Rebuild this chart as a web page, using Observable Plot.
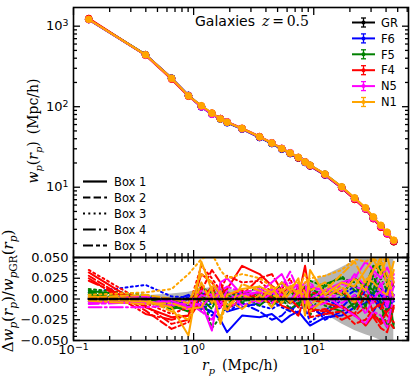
<!DOCTYPE html>
<html><head><meta charset="utf-8">
<script src="https://cdn.jsdelivr.net/npm/d3@7"></script>
<script src="https://cdn.jsdelivr.net/npm/@observablehq/plot@0.6"></script>
<style>
html,body{margin:0;padding:0;background:#fff;}
#chart{position:relative;width:416px;height:384px;overflow:hidden;font-family:"DejaVu Sans",sans-serif;}
#chart svg{position:absolute;left:0;overflow:visible;}
</style></head><body><div id="chart"></div>
<script>
// ---------------- data ----------------
const rp = [0.134,0.398,0.655,0.906,1.16,1.42,1.67,1.90,2.53,3.54,4.48,5.42,6.36,7.45,8.47,9.32,12.4,17.1,21.9,27.0,31.3,36.2,40.8,46.4];
const wpGR = [1211,441,226,138,100,81.6,70.8,64.2,53.1,41.8,35.2,30.0,26.4,23.2,20.4,18.6,14.4,9.9,7.18,5.40,4.12,3.25,2.68,2.13];

const models = ["GR","F6","F5","F4","N5","N1"];
const colors = ["#000000","#0000ff","#008000","#ff0000","#ff00ff","#ffa500"];
const boxes = ["Box 1","Box 2","Box 3","Box 4","Box 5"];

// residuals Δwp/wpGR in units of 1e-3, one row per box
const resF6 = [
 [2,0,-3,-5,-10,-15,-25,-40,-20,-22,-18,-28,-20,-15,-25,-32,-22,-20,-10,-5,0,-12,5,-3],
 [0,-5,-3,5,-8,0,5,-10,-5,-15,-25,-20,-10,-18,-5,-12,-20,0,10,5,-15,0,-5,5],
 [8,17,3,2,-5,-20,-10,-15,-5,-8,-12,-5,0,5,-10,-28,-15,5,15,10,20,5,-10,8],
 [-3,-5,-5,-8,-12,-5,0,-15,-10,-5,-2,-10,-15,-5,0,10,0,-10,5,-5,8,12,-15,0],
 [1,2,0,-2,5,10,-5,0,8,2,5,10,-5,0,8,-5,-25,-15,-5,10,5,-8,15,3]
];
const resF5 = [
 [10,2,-8,-15,5,-5,0,-10,8,0,12,2,-5,15,-8,5,10,5,25,15,40,35,20,-35],
 [8,0,-10,-5,15,5,-8,0,-5,10,-3,8,15,-10,10,-20,18,25,20,-10,30,-5,-35,-10],
 [12,5,-2,-10,8,-35,-22,-5,5,15,0,20,10,5,2,22,15,28,10,15,5,25,10,0],
 [5,-2,-6,0,-15,10,5,8,3,-8,5,-5,10,0,15,5,-8,-15,-5,-12,-20,-25,-10,-30],
 [6,-3,-12,-8,0,-12,12,5,-3,5,-8,0,-12,-5,-3,12,5,10,-12,20,10,45,25,15]
];
const resF4 = [
 [32,-10,-22,-20,30,20,5,12,40,30,16,8,14,2,40,0,-5,-10,-18,-32,-20,-28,-15,-8],
 [28,-14,-36,-28,10,35,20,0,5,25,30,10,-5,15,10,-12,-15,-8,-20,-10,-22,-35,-40,-10],
 [35,-5,-18,-10,40,25,10,28,20,22,8,12,25,-2,15,8,5,10,-5,12,0,-12,5,20],
 [25,-18,-25,-20,15,0,-10,5,10,0,-5,5,0,-10,-5,-15,-12,-25,-18,5,-15,-30,-25,-35],
 [22,-8,-30,-25,0,15,-5,-12,0,8,2,-8,-12,-20,5,-22,-18,-15,-30,-25,-12,-5,-20,-28]
];
const resN5 = [
 [-3,-5,-2,-10,-5,-38,20,25,5,8,20,30,10,18,-5,15,10,20,25,45,35,25,38,20],
 [0,3,-5,-12,5,0,10,15,8,12,5,15,33,10,20,-10,-5,10,30,15,-5,20,-8,30],
 [-5,-2,-8,-5,10,5,-10,-12,0,10,-5,8,20,0,10,20,0,18,15,10,32,15,28,25],
 [-10,-10,-8,-5,-15,-25,-5,10,-8,0,12,5,-2,12,0,-5,5,-10,-20,-30,-15,-20,-35,5],
 [-6,-4,-7,0,-10,5,-8,0,5,-5,8,0,15,5,8,0,12,-5,5,-18,0,10,-10,15]
];
const resN1 = [
 [0,-3,-10,-44,45,10,-25,5,12,15,8,20,10,25,-20,35,5,20,15,35,48,30,52,20],
 [2,5,0,-5,30,20,5,-15,18,10,5,0,15,20,8,-8,10,30,45,20,35,50,15,45],
 [5,8,12,30,48,55,35,25,30,25,15,10,15,5,20,25,28,35,48,45,50,40,55,50],
 [-2,-6,-5,-12,-10,15,-30,0,-12,5,-10,12,-5,8,5,-15,0,15,-5,25,20,10,5,35],
 [3,0,-15,-25,20,-5,10,-8,5,-3,15,-5,8,10,30,10,20,5,25,10,35,45,30,0]
];
// GR scatter band (1e-3)
const bandLo = [-3,-4,-4,-4,-4,-4,-3,-3,-4,-5,-5,-6,-7,-8,-10,-12,-18,-30,-38,-43,-46,-50,-52,-55];
const bandHi = [3,4,6,8,12,14,14,12,9,8,9,10,11,13,16,20,28,38,46,52,55,58,60,60];

const xMajor = [0.1,1,10];
const xMinor = [0.2,0.3,0.4,0.5,0.6,0.7,0.8,0.9,2,3,4,5,6,7,8,9,20,30,40,50,60];
const yTopMajor = [10,100,1000];
const yTopMinor = [2,3,4,5,6,7,8,9,20,30,40,50,60,70,80,90,200,300,400,500,600,700,800,900];
const yBotMajor = [-0.05,-0.025,0,0.025,0.05];
const yBotMinor = [-0.045,-0.04,-0.035,-0.03,-0.02,-0.015,-0.01,-0.005,0.005,0.01,0.015,0.02,0.03,0.035,0.04,0.045];

// ---------------- styles ----------------
const dashes = [undefined, "7.4,3.2", "2,3.3", "12.8,3.2,2,3.2", "10,3,4,3"];
const resAll = [null, resF6, resF5, resF4, resN5, resN1];
const W = 416, xDom = [0.1, 61.5];
const ML = 73, MR = 8;
const SERIF = "'DejaVu Serif', serif";
const powFmt = d => "10^" + String(Math.round(Math.log10(d))).replace("-", "−");
const blank = () => "";

function tickMarks(major, minor) {
  const o = {label: null, tickFormat: blank, strokeWidth: 1.3};
  return [
    Plot.axisX({...o, anchor: "bottom", ticks: major, tickSize: -7}),
    Plot.axisX({...o, anchor: "top", ticks: major, tickSize: -7}),
    Plot.axisX({...o, anchor: "bottom", ticks: minor, tickSize: -4}),
    Plot.axisX({...o, anchor: "top", ticks: minor, tickSize: -4}),
  ];
}
function yTicks(major, minor) {
  const o = {label: null, tickFormat: blank, strokeWidth: 1.3};
  return [
    Plot.axisY({...o, anchor: "left", ticks: major, tickSize: -7}),
    Plot.axisY({...o, anchor: "right", ticks: major, tickSize: -7}),
    Plot.axisY({...o, anchor: "left", ticks: minor, tickSize: -4}),
    Plot.axisY({...o, anchor: "right", ticks: minor, tickSize: -4}),
  ];
}

// ---------------- top panel ----------------
const wpModel = models.map((m, k) => k === 0 ? wpGR :
  wpGR.map((w, i) => w * (1 + d3.mean(resAll[k], row => row[i]) / 1000)));

const topMarks = [];
models.forEach((m, k) => {
  const rows = rp.map((r, i) => ({r, w: wpModel[k][i]}));
  topMarks.push(Plot.line(rows, {x: "r", y: "w", stroke: colors[k], strokeWidth: 2.2}));
  topMarks.push(Plot.dot(rows, {x: "r", y: "w", r: 3.4, fill: colors[k], stroke: colors[k], strokeWidth: 1}));
});

const topPlot = Plot.plot({
  width: W, height: 258, marginTop: 7, marginBottom: 1, marginLeft: ML, marginRight: MR,
  x: {type: "log", domain: xDom},
  y: {type: "log", domain: [1.34, 1706]},
  style: {fontFamily: "DejaVu Sans", fontSize: "13px", color: "black", background: "transparent"},
  marks: [
    ...topMarks,
    ...tickMarks(xMajor, xMinor),
    ...yTicks(yTopMajor, yTopMinor),
    Plot.axisY({anchor: "left", ticks: yTopMajor, tickSize: 0, tickPadding: 5, tickFormat: powFmt, label: null, fontSize: 13}),
    Plot.frame({stroke: "black", strokeWidth: 1.6})
  ]
});

// ---------------- bottom panel ----------------
const botMarks = [];
const bandRows = rp.map((r, i) => ({r, lo: bandLo[i] / 1000, hi: bandHi[i] / 1000}));
botMarks.push(Plot.areaY(bandRows, {x: "r", y1: "lo", y2: "hi", fill: "#b5b5b5", clip: true}));
models.forEach((m, k) => {
  if (k === 0) return;
  resAll[k].forEach((row, b) => {
    const rows = rp.map((r, i) => ({r, v: row[i] / 1000}));
    botMarks.push(Plot.line(rows, {x: "r", y: "v", stroke: colors[k], strokeWidth: 2, strokeDasharray: dashes[b], clip: true}));
  });
});
const grRows = rp.map(r => ({r, v: 0}));
botMarks.push(Plot.line(grRows, {x: "r", y: "v", stroke: "black", strokeWidth: 2.6, strokeDasharray: "8,2.5"}));

const botPlot = Plot.plot({
  width: W, height: 134, marginTop: 7, marginBottom: 44, marginLeft: ML, marginRight: MR,
  x: {type: "log", domain: xDom},
  y: {domain: [-0.05, 0.05]},
  style: {fontFamily: "DejaVu Sans", fontSize: "13px", color: "black", background: "transparent"},
  marks: [
    ...botMarks,
    ...tickMarks(xMajor, xMinor),
    ...yTicks(yBotMajor, yBotMinor),
    Plot.axisY({anchor: "left", ticks: yBotMajor, tickSize: 0, tickPadding: 5, tickFormat: d3.format(".3f"), label: null, fontSize: 13}),
    Plot.axisX({anchor: "bottom", ticks: xMajor, tickSize: 0, tickPadding: 4, tickFormat: powFmt, label: null, fontSize: 13}),
    Plot.frame({stroke: "black", strokeWidth: 1.6})
  ]
});

const chart = document.getElementById("chart");
topPlot.style.top = "0px";
botPlot.style.top = "250px";
chart.appendChild(topPlot);
chart.appendChild(botPlot);

// superscripts in tick labels
function supify(svg) {
  d3.select(svg).selectAll("text").each(function () {
    const t = this.textContent;
    if (!t.includes("^")) return;
    const [b, e] = t.split("^");
    const s = d3.select(this);
    s.selectAll("*").remove();
    this.textContent = "";
    s.append("tspan").text(b);
    s.append("tspan").attr("dy", "-0.45em").attr("font-size", "0.72em").text(e);
  });
}
supify(topPlot); supify(botPlot);

// math-style text helper: segs = [text, italic, sub]
function mathText(sel, x, y, rot, segs, size, anchor = "middle") {
  const t = sel.append("text")
    .attr("transform", `translate(${x},${y}) rotate(${rot})`)
    .attr("text-anchor", anchor)
    .attr("font-family", SERIF)
    .attr("font-size", size).attr("fill", "black");
  let shifted = false;
  for (const [s, it, sub] of segs) {
    const ts = t.append("tspan").text(s);
    if (it) ts.attr("font-style", "italic");
    if (sub) {
      ts.attr("font-size", size * 0.7);
      if (!shifted) { ts.attr("dy", size * 0.28); shifted = true; }
    } else if (shifted) { ts.attr("dy", -size * 0.28); shifted = false; }
  }
  return t;
}
function plainText(sel, x, y, txt, size) {
  return sel.append("text").attr("x", x).attr("y", y).attr("text-anchor", "start")
    .attr("font-family", "DejaVu Sans").attr("font-size", size).attr("fill", "black").text(txt);
}

const st = d3.select(topPlot);
// y label top
mathText(st, 38, 131, -90, [["w", true], ["p", true, true], ["(", false], ["r", true], ["p", true, true], [")", false], ["\u2002(Mpc/h)", false]], 14);
// title
plainText(st, 195, 26, "Galaxies", 14);
mathText(st, 262, 26, 0, [["z", true], ["\u2009=\u20090.5", false]], 14, "start");

// legend top-right
models.forEach((m, k) => {
  const y = 22.5 + k * 15.9;
  const g = st.append("g").attr("stroke", colors[k]).attr("fill", colors[k]);
  g.append("line").attr("x1", 352).attr("x2", 375).attr("y1", y).attr("y2", y).attr("stroke-width", 2);
  g.append("line").attr("x1", 363.5).attr("x2", 363.5).attr("y1", y - 4.5).attr("y2", y + 4.5).attr("stroke-width", 1.3);
  g.append("line").attr("x1", 361).attr("x2", 366).attr("y1", y - 4.5).attr("y2", y - 4.5).attr("stroke-width", 1.3);
  g.append("line").attr("x1", 361).attr("x2", 366).attr("y1", y + 4.5).attr("y2", y + 4.5).attr("stroke-width", 1.3);
  g.append("circle").attr("cx", 363.5).attr("cy", y).attr("r", 2).attr("stroke", "none");
  plainText(st, 381, y + 4.2, m, 11.5);
});
// legend bottom-left (boxes)
boxes.forEach((b, i) => {
  const y = 181.5 + i * 16;
  const l = st.append("line").attr("x1", 83).attr("x2", 107).attr("y1", y).attr("y2", y)
    .attr("stroke", "black").attr("stroke-width", 2.2);
  if (dashes[i]) l.attr("stroke-dasharray", dashes[i]);
  plainText(st, 114, y + 4.2, b, 11.5);
});

const sb = d3.select(botPlot);
mathText(sb, 13, 41, -90, [["Δ", false], ["w", true], ["p", true, true], ["(", false], ["r", true], ["p", true, true], [")/", false], ["w", true], ["p", true, true], ["GR", false, true], ["(", false], ["r", true], ["p", true, true], [")", false]], 15);
mathText(sb, 240, 120, 0, [["r", true], ["p", true, true], ["\u2002(Mpc/h)", false]], 14);
</script></body></html>
